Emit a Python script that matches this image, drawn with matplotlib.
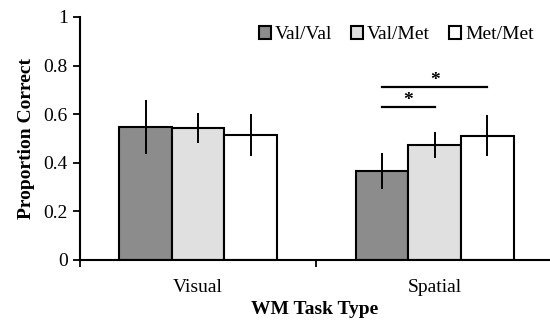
import matplotlib
matplotlib.use("Agg")
import matplotlib.pyplot as plt
import numpy as np

plt.rcParams['font.family'] = ['Liberation Serif', 'DejaVu Serif']

groups = ["Visual", "Spatial"]
conditions = ["Val/Val", "Val/Met", "Met/Met"]
means = [[0.548, 0.366],
         [0.543, 0.473],
         [0.514, 0.511]]
errs = [[0.112, 0.075],
        [0.063, 0.055],
        [0.085, 0.085]]
colors = ["#8c8c8c", "#e0e0e0", "#ffffff"]

# significance brackets in the Spatial group: (from cond, to cond, height)
sig = [(0, 1, 0.63), (0, 2, 0.712)]

fig = plt.figure(figsize=(5.5, 3.2), dpi=100)
ax = fig.add_axes([0.145, 0.1875, 0.855, 0.7595])

x = np.arange(len(groups))
w = 0.222
for i, c in enumerate(conditions):
    ax.bar(x + (i - 1) * w, means[i], w, color=colors[i], edgecolor="black",
           linewidth=1.5, label=c, zorder=2)
    ax.errorbar(x + (i - 1) * w, means[i], yerr=errs[i], fmt="none",
                ecolor="black", elinewidth=1.4, capsize=0, zorder=3)

for a, b, h in sig:
    xa = x[1] + (a - 1) * w
    xb = x[1] + (b - 1) * w
    ax.plot([xa, xb], [h, h], color="black", lw=1.6)
    ax.text((xa + xb) / 2, h + 0.027, "*", ha="center", va="center",
            fontsize=14, fontweight="bold")

ax.set_xlim(-0.5, 1.487)
ax.set_ylim(0, 1)
ax.set_yticks(np.arange(0, 1.01, 0.2))
ax.set_yticklabels(["0", "0.2", "0.4", "0.6", "0.8", "1"])
ax.set_xticks(x)
ax.set_xticklabels(groups)
ax.set_xticks([-0.5, 0.5], minor=True)
ax.tick_params(axis="x", which="major", length=0, labelsize=14, pad=14)
ax.tick_params(axis="x", which="minor", length=5, width=1.3, direction="out")
ax.tick_params(axis="y", length=5, width=1.3, labelsize=14)
for s in ["top", "right"]:
    ax.spines[s].set_visible(False)
ax.spines["left"].set_linewidth(1.5)
ax.spines["bottom"].set_linewidth(1.5)

ax.set_ylabel("Proportion Correct", fontsize=14, fontweight="bold", labelpad=6)
ax.set_xlabel("WM Task Type", fontsize=14, fontweight="bold", labelpad=3)

ax.legend(loc="upper right", bbox_to_anchor=(0.99, 1.01), ncol=3, frameon=False,
          fontsize=14, handlelength=0.6, handleheight=0.6, handletextpad=0.2,
          columnspacing=1.0, borderaxespad=0.2)

fig.savefig("out.png", dpi=100)
